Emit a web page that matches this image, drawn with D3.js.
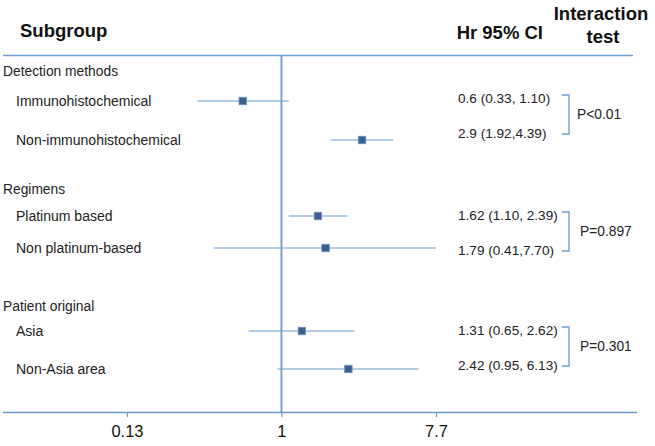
<!DOCTYPE html>
<html><head><meta charset="utf-8">
<script src="https://cdn.jsdelivr.net/npm/d3@7"></script>
<style>
html,body{margin:0;padding:0;background:#fff;}
text{font-family:"Liberation Sans",Arial,Helvetica,sans-serif;}
</style></head>
<body>
<svg id="chart" width="655" height="446"></svg>
<script>
// ---- data ----
const groups = ["Detection methods", "Regimens", "Patient original"];
const subgroups = ["Immunohistochemical", "Non-immunohistochemical", "Platinum based", "Non platinum-based", "Asia", "Non-Asia area"];
const subgroupGroup = [0, 0, 1, 1, 2, 2];
const hr = [0.6, 2.9, 1.62, 1.79, 1.31, 2.42];
const ciLow = [0.33, 1.92, 1.10, 0.41, 0.65, 0.95];
const ciHigh = [1.10, 4.39, 2.39, 7.70, 2.62, 6.13];
const ciLabels = ["0.6 (0.33, 1.10)", "2.9 (1.92,4.39)", "1.62 (1.10, 2.39)", "1.79 (0.41,7.70)", "1.31 (0.65, 2.62)", "2.42 (0.95, 6.13)"];
const pLabels = ["P<0.01", "P=0.897", "P=0.301"];
const tickValues = [0.13, 1, 7.7];

// ---- layout ----
const groupY = [71, 189, 306];
const rowY = [101, 140, 216, 248, 331, 369];
const ciTextY = [98, 133, 215, 250, 330, 365];
const lineColor = "#6d9bd0";
const boxColor = "#3c5f94";
const textColor = "#222";

const svg = d3.select("#chart");
const x = d3.scaleLog().domain([0.13, 7.7]).range([127, 436]);

// header
svg.append("text").attr("x", 20).attr("y", 37).attr("font-size", 18.5).attr("font-weight", "bold").attr("fill", "#111").text("Subgroup");
svg.append("text").attr("x", 543).attr("y", 39).attr("text-anchor", "end").attr("font-size", 18.5).attr("font-weight", "bold").attr("fill", "#111").text("Hr 95% CI");
svg.append("text").attr("x", 601).attr("y", 20).attr("text-anchor", "middle").attr("font-size", 18.5).attr("font-weight", "bold").attr("fill", "#111").text("Interaction");
svg.append("text").attr("x", 603).attr("y", 43).attr("text-anchor", "middle").attr("font-size", 18.5).attr("font-weight", "bold").attr("fill", "#111").text("test");

// top rule
svg.append("line").attr("x1", 3).attr("x2", 633).attr("y1", 55.5).attr("y2", 55.5).attr("stroke", lineColor).attr("stroke-width", 1.3);

// axis
const axisY = 412;
svg.append("line").attr("x1", 3).attr("x2", 637).attr("y1", axisY + 0.5).attr("y2", axisY + 0.5).attr("stroke", lineColor).attr("stroke-width", 1.3);
const axis = d3.axisBottom(x).tickValues(tickValues).tickSize(5).tickPadding(8).tickFormat(d => String(d));
const gAxis = svg.append("g").attr("transform", `translate(0,${axisY})`).call(axis);
gAxis.select(".domain").remove();
gAxis.selectAll(".tick line").attr("stroke", lineColor).attr("stroke-width", 1.2);
gAxis.selectAll(".tick text").attr("font-size", 16.5).attr("fill", "#111").attr("font-family", "'Liberation Sans',Arial,sans-serif");

// reference line at 1
svg.append("line").attr("x1", x(1)).attr("x2", x(1)).attr("y1", 55).attr("y2", axisY + 1).attr("stroke", lineColor).attr("stroke-width", 1.8);

// group labels
svg.selectAll(".grp").data(groups).enter().append("text")
  .attr("x", 3).attr("y", (d, i) => groupY[i]).attr("dy", "0.35em")
  .attr("font-size", 13.8).attr("fill", textColor).text(d => d);

// subgroup labels
svg.selectAll(".sub").data(subgroups).enter().append("text")
  .attr("x", 16).attr("y", (d, i) => rowY[i]).attr("dy", "0.35em")
  .attr("font-size", 14).attr("fill", textColor).text(d => d);

// CI lines
svg.selectAll(".ci").data(hr).enter().append("line")
  .attr("x1", (d, i) => x(ciLow[i])).attr("x2", (d, i) => x(ciHigh[i]))
  .attr("y1", (d, i) => rowY[i]).attr("y2", (d, i) => rowY[i])
  .attr("stroke", lineColor).attr("stroke-width", 1.2);

// boxes
svg.selectAll(".box").data(hr).enter().append("rect")
  .attr("x", d => x(d) - 3.75).attr("y", (d, i) => rowY[i] - 3.75)
  .attr("width", 7.5).attr("height", 7.5)
  .attr("fill", boxColor).attr("stroke", "#7393c2").attr("stroke-width", 0.8);

// CI text
svg.selectAll(".citxt").data(ciLabels).enter().append("text")
  .attr("x", 458).attr("y", (d, i) => ciTextY[i]).attr("dy", "0.35em")
  .attr("font-size", 13.6).attr("fill", textColor).text(d => d);

// brackets and p-values
groups.forEach((g, gi) => {
  const idx = subgroupGroup.map((v, i) => v === gi ? i : -1).filter(i => i >= 0);
  const y1 = ciTextY[idx[0]] - 3, y2 = ciTextY[idx[1]] + 1;
  svg.append("path")
    .attr("d", `M562,${y1}H569V${y2}H562`)
    .attr("fill", "none").attr("stroke", lineColor).attr("stroke-width", 1.3);
  svg.append("text").attr("x", gi === 0 ? 577 : 580).attr("y", (y1 + y2) / 2).attr("dy", "0.35em")
    .attr("font-size", 13.8).attr("fill", textColor).text(pLabels[gi]);
});
</script>
</body></html>
